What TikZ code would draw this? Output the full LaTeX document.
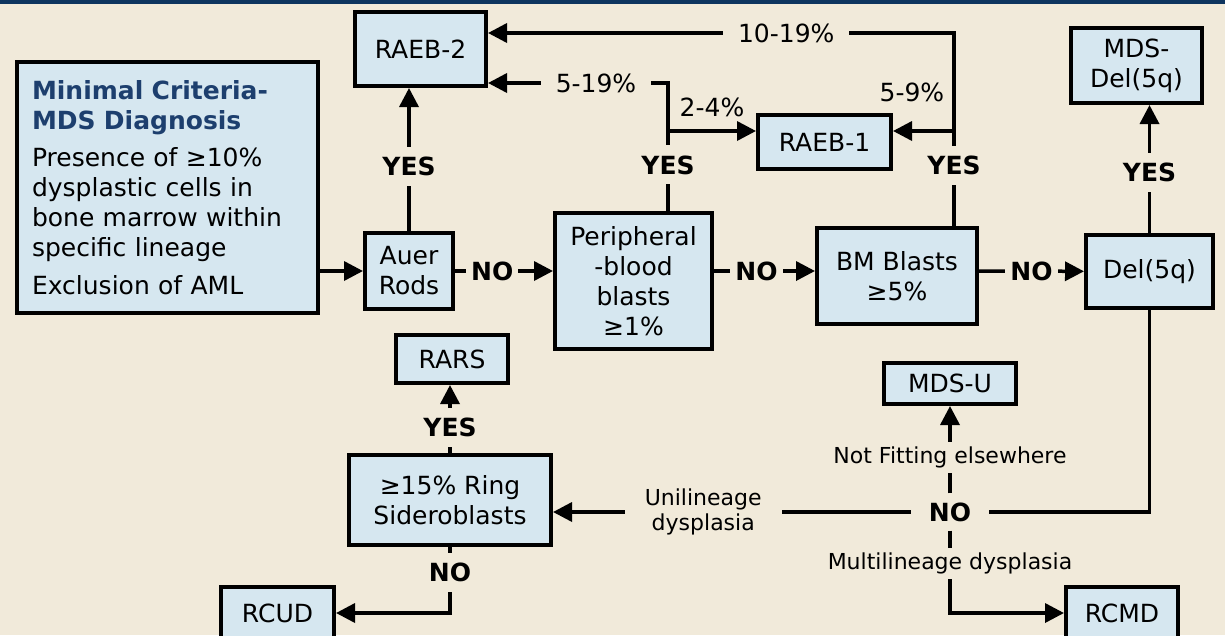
\documentclass[tikz,border=0pt]{standalone}
\usepackage{fontspec}
\setmainfont{DejaVu Sans}
\usepackage{xcolor}
\usetikzlibrary{arrows.meta, positioning}

\definecolor{bg}{HTML}{F1EADA}
\definecolor{boxblue}{HTML}{D6E7F0}
\definecolor{ttl}{HTML}{1D3F6E}
\definecolor{band}{HTML}{0E355F}

\begin{document}
\begin{tikzpicture}[
    x=1pt, y=-1pt,
    >={Triangle[length=19pt, width=19pt]},
    box/.style={rectangle, draw=black, fill=boxblue, line width=4pt, align=center, inner sep=0pt, font=\fontsize{25}{30}\selectfont},
    line/.style={draw=black, line width=3.5pt, ->},
    conn/.style={draw=black, line width=3.5pt},
    yesno/.style={fill=bg, inner xsep=5pt, inner ysep=10pt, font=\fontsize{25}{30}\selectfont\bfseries},
    pct/.style={fill=bg, inner xsep=15pt, inner ysep=3pt, font=\fontsize{25}{30}\selectfont},
    note/.style={fill=bg, inner xsep=20pt, inner ysep=5pt, align=center, font=\fontsize{22}{25}\selectfont}
]

    \path [use as bounding box, fill=bg] (0,0) rectangle (1225,635);
    \clip (0,0) rectangle (1225,635);
    \fill [band] (0,0) rectangle (1225,4);

    % Main row
    \node [box, minimum width=88pt, minimum height=76pt] (auer) at (409,271) {Auer\\Rods};

    \node [box, align=left, text width=271pt, inner xsep=15pt, minimum height=251pt, left=43pt of auer, yshift=83.5pt] (crit) {
        \textcolor{ttl}{\textbf{Minimal Criteria-}}\\
        \textcolor{ttl}{\textbf{MDS Diagnosis}}\\[7pt]
        Presence of ≥10\%\\
        dysplastic cells in\\
        bone marrow within\\
        specific lineage\\[8pt]
        Exclusion of AML
    };

    \node [box, minimum width=157pt, minimum height=136pt, right=98pt of auer, yshift=-10pt] (pbb) {Peripheral\\-blood\\blasts\\≥1\%};
    \node [box, minimum width=160pt, minimum height=96pt, right=101pt of pbb, yshift=5pt] (bm) {BM Blasts\\≥5\%};
    \node [box, minimum width=127pt, minimum height=73pt, right=105pt of bm, yshift=4.5pt] (del) {Del(5q)};

    % Upper results
    \node [box, minimum width=131pt, minimum height=74pt, above=143pt of auer, xshift=11.5pt] (raebtwo) {RAEB-2};
    \node [box, minimum width=133pt, minimum height=54pt, above=55pt of bm, xshift=-72.5pt] (raebone) {RAEB-1};
    \node [box, minimum width=131pt, minimum height=75pt, above=128pt of del, xshift=-13pt] (mdsdel) {MDS-\\Del(5q)};

    % Lower part
    \node [box, minimum width=202pt, minimum height=90pt, below=142pt of auer, xshift=41pt] (ring) {≥15\% Ring\\Sideroblasts};
    \node [box, minimum width=112pt, minimum height=48pt, above=68pt of ring, xshift=2pt] (rars) {RARS};
    \node [box, minimum width=113pt, minimum height=52pt, below=38pt of ring, xshift=-172.5pt] (rcud) {RCUD};
    \node [box, minimum width=132pt, minimum height=41pt, below=35pt of bm, xshift=53pt] (mdsu) {MDS-U};
    \node [box, minimum width=112pt, minimum height=52pt, below=275pt of del, xshift=-27.5pt] (rcmd) {RCMD};
    \node [yesno, inner xsep=18pt, inner ysep=9pt] (nojct) at ([yshift=-106pt]mdsu.south) {NO};

    \coordinate (pbbup) at ([xshift=34.5pt]pbb.north);
    \coordinate (bmup) at ([xshift=57pt]bm.north);
    \coordinate (raebtwohi) at ([yshift=16pt]raebtwo.east);
    \coordinate (raebtwolo) at ([yshift=-34pt]raebtwo.east);
    \coordinate (raebonein) at ([yshift=11pt]raebone.west);
    \coordinate (raeboneout) at ([yshift=11pt]raebone.east);

    % Connections
    \draw [line] (crit.east |- auer) -- (auer);
    \draw [line] (auer) -- node[yesno, pos=0.45] {YES} (auer |- raebtwo.south);
    \draw [line] (auer) -- node[yesno, pos=0.38] {NO} (pbb.west |- auer);
    \draw [line] (pbb.east |- auer) -- node[yesno, pos=0.42] {NO} (bm.west |- auer);
    \draw [line] (bm.east |- auer) -- node[yesno] {NO} (del);

    \draw [line] (pbbup) |- node[yesno, pos=0.18] {YES} node[pct, pos=0.70] {5-19\%} (raebtwolo);
    \draw [line] (pbbup |- raebonein) -- node[pct, fill=none, above=9pt] {2-4\%} (raebonein);
    \draw [line] (bmup) |- node[yesno, pos=0.157] {YES} node[pct, pos=0.68] {10-19\%} (raebtwohi);
    \draw [line] (bmup |- raeboneout) -- node[pct, fill=none, above=24pt, pos=0.69] {5-9\%} (raeboneout);

    \draw [line] (del) -- node[yesno, pos=0.47] {YES} (del |- mdsdel.south);
    \draw [conn] (del) |- (nojct);
    \draw [line] (nojct) -- node[note, pos=0.58] {Unilineage\\dysplasia} (ring.east |- nojct);
    \draw [line] (nojct) -- node[note, pos=0.41] {Not Fitting elsewhere} (nojct |- mdsu.south);
    \draw [line] (nojct) |- node[note, pos=0.2] {Multilineage dysplasia} (rcmd);

    \draw [line] (ring) -- node[yesno, pos=0.37] {YES} (ring |- rars.south);
    \draw [line] (ring) |- node[yesno, pos=0.19] {NO} (rcud);

\end{tikzpicture}
\end{document}
